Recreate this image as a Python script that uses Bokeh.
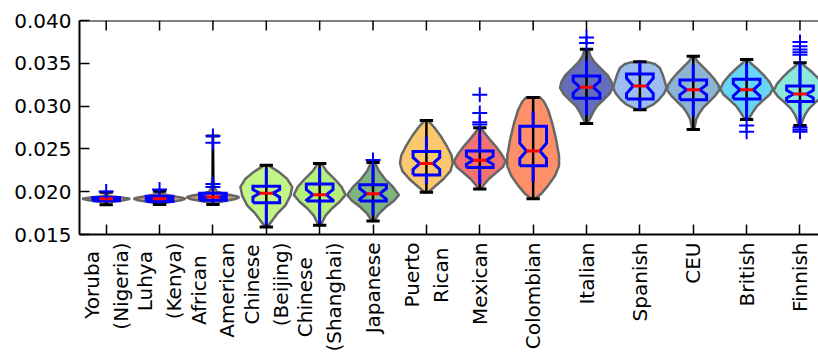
import math
import numpy as np
from bokeh.plotting import figure
from bokeh.models import Range1d, FixedTicker, NumeralTickFormatter, Span
from bokeh.embed import file_html
from bokeh.resources import INLINE

# ---------------- data ----------------
labels = ["Yoruba\n(Nigeria)", "Luhya\n(Kenya)", "African\nAmerican", "Chinese\n(Beijing)",
          "Chinese\n(Shanghai)", "Japanese", "Puerto\nRican", "Mexican", "Colombian",
          "Italian", "Spanish", "CEU", "British", "Finnish"]
positions = list(range(1, 15))

colors = ["#e6d4ab", "#d4a67c", "#c99d76", "#c2f585", "#b6f07c", "#7eb57e", "#fbc86d",
          "#f27373", "#fd8f69", "#646ebb", "#9dbdf1", "#8db3d5", "#66d5f7", "#8ae8dc"]

q1 = [0.01894, 0.01885, 0.01900, 0.01870, 0.01890, 0.01890, 0.02194, 0.02284, 0.02302,
      0.03093, 0.03082, 0.03074, 0.03082, 0.03054]
med = [0.01917, 0.01917, 0.01937, 0.01983, 0.01963, 0.01975, 0.02330, 0.02368, 0.02476,
       0.03221, 0.03236, 0.03190, 0.03190, 0.03140]
q3 = [0.01932, 0.01948, 0.01983, 0.02064, 0.02090, 0.02082, 0.02469, 0.02476, 0.02765,
      0.03352, 0.03375, 0.03306, 0.03314, 0.03236]
notch_lo = [0.01907, 0.01905, 0.01925, 0.01937, 0.01901, 0.01913, 0.02260, 0.02320, 0.02386,
            0.03151, 0.03146, 0.03132, 0.03120, 0.03094]
notch_hi = [0.01927, 0.01929, 0.01949, 0.02025, 0.02025, 0.02037, 0.02400, 0.02416, 0.02566,
            0.03291, 0.03326, 0.03248, 0.03260, 0.03186]
whisk_lo = [0.01870, 0.01860, 0.01865, 0.01608, 0.01632, 0.01723, 0.02090, 0.02090, 0.02117,
            0.02900, 0.02958, 0.02881, 0.02850, 0.02780]
whisk_hi = [0.01960, 0.01975, 0.01990, 0.02272, 0.02283, 0.02302, 0.02642, 0.02680, 0.02939,
            0.03525, 0.03517, 0.03479, 0.03499, 0.03500]
data_min = [0.01847, 0.01851, 0.01851, 0.01589, 0.01608, 0.01658, 0.01994, 0.02032, 0.01917,
            0.02796, 0.02958, 0.02727, 0.02843, 0.02773]
data_max = [0.01994, 0.02006, 0.02650, 0.02310, 0.02330, 0.02341, 0.02831, 0.02746, 0.03101,
            0.03664, 0.03517, 0.03583, 0.03545, 0.03506]

fliers = [
    [0.02001],
    [0.02027],
    [0.02650, 0.02573, 0.02090, 0.02056],
    [],
    [],
    [0.02370],
    [],
    [0.03132, 0.02920, 0.02811, 0.02785],
    [],
    [0.03800, 0.03737],
    [],
    [],
    [0.02773, 0.02700],
    [0.03750, 0.03700, 0.03660, 0.03630, 0.03600, 0.02750, 0.02725, 0.02700],
]

# violin outlines: values along the axis and relative density (1 = full width)
violin_vals = [
    [0.02000, 0.01960, 0.01945, 0.01930, 0.01917, 0.01900, 0.01885, 0.01870, 0.01847],
    [0.02030, 0.02000, 0.01970, 0.01950, 0.01930, 0.01917, 0.01900, 0.01880, 0.01865, 0.01851],
    [0.02650, 0.02200, 0.02050, 0.02000, 0.01970, 0.01950, 0.01935, 0.01915, 0.01895, 0.01875, 0.01851],
    [0.02310, 0.02229, 0.02148, 0.02056, 0.01951, 0.01836, 0.01743, 0.01662, 0.01589],
    [0.02330, 0.02241, 0.02148, 0.02056, 0.01963, 0.01882, 0.01801, 0.01720, 0.01608],
    [0.02341, 0.02241, 0.02148, 0.02056, 0.01963, 0.01894, 0.01824, 0.01743, 0.01658],
    [0.02831, 0.02750, 0.02657, 0.02542, 0.02426, 0.02333, 0.02241, 0.02148, 0.02067, 0.01994],
    [0.02746, 0.02681, 0.02611, 0.02530, 0.02449, 0.02357, 0.02287, 0.02218, 0.02148, 0.02079, 0.02032],
    [0.03101, 0.03051, 0.02958, 0.02808, 0.02611, 0.02418, 0.02302, 0.02186, 0.02071, 0.01975, 0.01917],
    [0.03664, 0.03583, 0.03514, 0.03444, 0.03363, 0.03282, 0.03213, 0.03144, 0.03074, 0.03005, 0.02935, 0.02866, 0.02796],
    [0.03517, 0.03508, 0.03491, 0.03444, 0.03363, 0.03282, 0.03213, 0.03144, 0.03074, 0.03016, 0.02976, 0.02958],
    [0.03583, 0.03526, 0.03468, 0.03398, 0.03317, 0.03248, 0.03190, 0.03120, 0.03051, 0.02981, 0.02912, 0.02843, 0.02727],
    [0.03545, 0.03491, 0.03421, 0.03352, 0.03282, 0.03201, 0.03132, 0.03062, 0.02993, 0.02924, 0.02866, 0.02843],
    [0.03506, 0.03456, 0.03398, 0.03329, 0.03259, 0.03178, 0.03109, 0.03039, 0.02970, 0.02900, 0.02843, 0.02773],
]
violin_dens = [
    [0.0, 0.03, 0.25, 0.65, 0.90, 0.65, 0.30, 0.05, 0.0],
    [0.0, 0.05, 0.15, 0.45, 0.85, 0.97, 0.80, 0.40, 0.12, 0.0],
    [0.0, 0.02, 0.05, 0.15, 0.50, 0.85, 0.99, 0.85, 0.50, 0.15, 0.0],
    [0.07, 0.48, 0.79, 0.97, 0.90, 0.71, 0.41, 0.22, 0.04],
    [0.07, 0.26, 0.56, 0.82, 0.97, 0.75, 0.45, 0.22, 0.04],
    [0.07, 0.22, 0.45, 0.75, 0.97, 0.79, 0.49, 0.22, 0.04],
    [0.07, 0.30, 0.52, 0.75, 0.94, 0.99, 0.90, 0.64, 0.34, 0.07],
    [0.04, 0.19, 0.37, 0.60, 0.79, 0.97, 0.86, 0.60, 0.34, 0.15, 0.04],
    [0.26, 0.41, 0.56, 0.71, 0.86, 0.97, 0.97, 0.82, 0.56, 0.30, 0.07],
    [0.07, 0.15, 0.30, 0.52, 0.79, 0.94, 0.99, 0.86, 0.64, 0.41, 0.26, 0.15, 0.04],
    [0.04, 0.37, 0.56, 0.75, 0.86, 0.94, 1.00, 0.90, 0.71, 0.49, 0.22, 0.04],
    [0.04, 0.15, 0.34, 0.56, 0.79, 0.94, 0.99, 0.82, 0.60, 0.37, 0.22, 0.11, 0.04],
    [0.04, 0.19, 0.45, 0.67, 0.86, 0.99, 0.86, 0.60, 0.37, 0.22, 0.11, 0.04],
    [0.07, 0.22, 0.45, 0.67, 0.86, 0.99, 0.82, 0.56, 0.34, 0.19, 0.11, 0.04],
]

y_ticks = [0.015, 0.020, 0.025, 0.030, 0.035, 0.040]
y_lo, y_hi = 0.015, 0.040

# ---------------- figure ----------------
FONT = "DejaVu Sans"
W, H = 818, 354
B_LEFT, B_TOP, B_BOTTOM = 79, 20, 118
p = figure(width=W, height=H,
           x_range=Range1d(0.5, 14.347), y_range=Range1d(y_lo, y_hi),
           output_backend="svg", toolbar_location=None,
           min_border_left=B_LEFT, min_border_right=0, min_border_top=B_TOP,
           min_border_bottom=B_BOTTOM)
p.outline_line_color = None
p.xgrid.visible = False
p.ygrid.visible = False
p.background_fill_color = "white"
p.border_fill_color = "white"

half_w = 0.5      # violin half width at density 1
box_hw = 0.25     # box half width
notch_hw = 0.125  # notch waist half width

# violins
vxs, vys = [], []
for pos, vals, dens in zip(positions, violin_vals, violin_dens):
    vals = np.asarray(vals)
    d = np.asarray(dens) * half_w
    xs = list(pos + d[::-1]) + list(pos - d)
    ys = list(vals[::-1]) + list(vals)
    vxs.append(xs)
    vys.append(ys)
p.patches(vxs, vys, fill_color=colors, fill_alpha=1.0, line_color="#676767", line_width=2.5)

# black extrema bars and caps
p.segment(x0=positions, y0=data_min, x1=positions, y1=data_max, line_color="black", line_width=2.5)
cx0 = [x - 0.125 for x in positions]
cx1 = [x + 0.125 for x in positions]
p.segment(x0=cx0, y0=data_min, x1=cx1, y1=data_min, line_color="black", line_width=3)
p.segment(x0=cx0, y0=data_max, x1=cx1, y1=data_max, line_color="black", line_width=3)

# blue whiskers
p.segment(x0=positions, y0=q3, x1=positions, y1=whisk_hi, line_color="blue", line_width=3)
p.segment(x0=positions, y0=q1, x1=positions, y1=whisk_lo, line_color="blue", line_width=3)

# notched boxes
bxs, bys = [], []
for pos, a, m, b, nl, nh in zip(positions, q1, med, q3, notch_lo, notch_hi):
    L, R = pos - box_hw, pos + box_hw
    cl, cr = pos - notch_hw, pos + notch_hw
    bxs.append([L, R, R, cr, R, R, L, L, cl, L, L])
    bys.append([a, a, nl, m, nh, b, b, nh, m, nl, a])
p.multi_line(bxs, bys, line_color="blue", line_width=3, line_join="miter")

# medians
p.segment(x0=cx0, y0=med, x1=cx1, y1=med, line_color="red", line_width=3)

# fliers
fx, fy = [], []
for pos, fl in zip(positions, fliers):
    for v in fl:
        fx.append(pos)
        fy.append(v)
p.scatter(fx, fy, marker="cross", size=15, line_color="blue", line_width=2)

# top spine with inward ticks (matplotlib-like box)
FRAME_H = H - B_TOP - B_BOTTOM
tick_len = 10 * (y_hi - y_lo) / FRAME_H
p.add_layout(Span(location=y_hi, dimension="width", line_color="black", line_width=2))
p.segment(x0=positions, y0=[y_hi] * len(positions), x1=positions,
          y1=[y_hi - tick_len] * len(positions), line_color="black", line_width=1.5)

# axes
def style_axis(ax):
    ax.axis_line_width = 2
    ax.axis_line_color = "black"
    ax.major_tick_in = 10
    ax.major_tick_out = 0
    ax.minor_tick_in = 0
    ax.minor_tick_out = 0
    ax.major_tick_line_width = 1.5
    ax.major_tick_line_color = "black"
    ax.major_label_text_font = FONT
    ax.major_label_text_font_size = "20px"
    ax.major_label_text_color = "black"

yax = p.yaxis[0]
yax.ticker = FixedTicker(ticks=y_ticks)
yax.formatter = NumeralTickFormatter(format="0.000")
style_axis(yax)
yax.major_label_standoff = 8

# Rotated multi-line labels are justified toward the axis; pad the shorter line
# with fixed-width Unicode spaces so the lines appear centred as in the reference.
def centre_lines(lab):
    lines = lab.split("\n")
    out = []
    for ln in lines:
        pad = ""
        if ln in ("Yoruba", "Luhya"):
            pad = "\u2004\u200a"
        elif ln == "African":
            pad = "\u2007"
        elif ln == "Rican":
            pad = "\u2005"
        elif ln == "Chinese" and "Beijing" in lab:
            pad = "\u200a"
        elif ln == "Chinese" and "Shanghai" in lab:
            pad = "\u2007\u200a"
        out.append(ln + pad)
    return "\n".join(out)

shown = [centre_lines(lab) for lab in labels]
xax = p.xaxis[0]
xax.ticker = FixedTicker(ticks=positions)
xax.major_label_overrides = {pos: lab for pos, lab in zip(positions, shown)}
style_axis(xax)
xax.major_label_orientation = math.pi / 2
xax.major_label_standoff = 8

open("out.html", "w").write(file_html(p, INLINE))
